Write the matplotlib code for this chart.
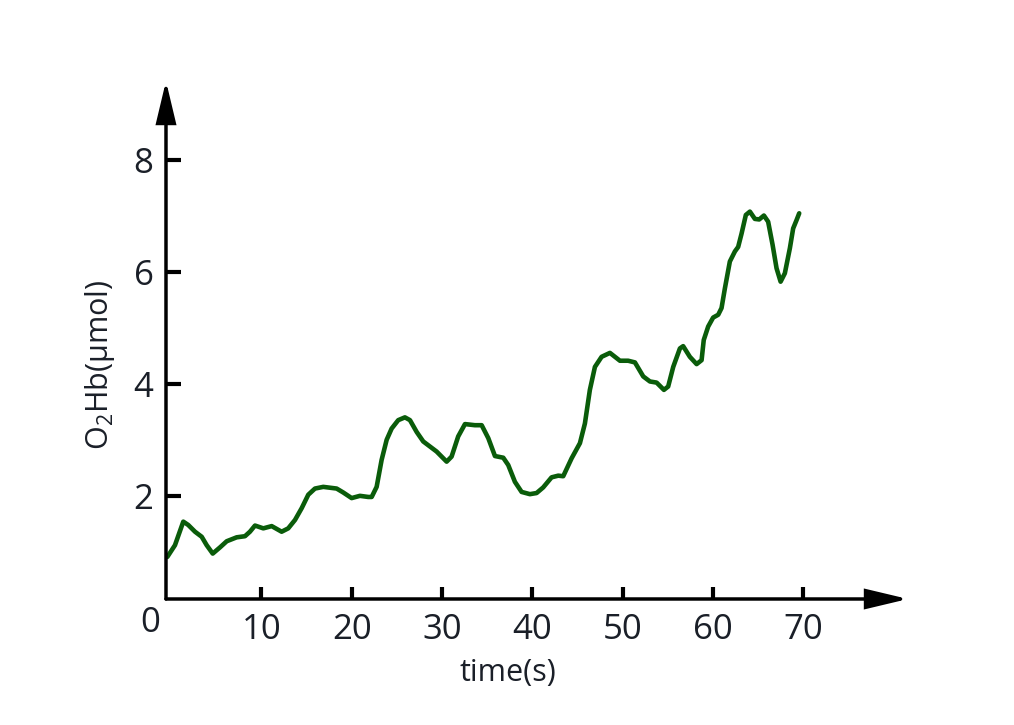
import matplotlib
matplotlib.use("Agg")
import matplotlib.pyplot as plt

plt.rcParams['font.family'] = ['Open Sans', 'DejaVu Sans']
plt.rcParams['mathtext.fontset'] = 'custom'
plt.rcParams['mathtext.rm'] = 'Open Sans'

# data
time_s = [-0.42, 0.43, 1.35, 1.90, 2.65, 3.39, 3.94, 4.61, 5.41, 6.16, 7.26, 8.18,
          8.73, 9.29, 10.21, 11.14, 12.24, 12.97, 13.72, 14.46, 15.19, 15.93, 16.85,
          18.33, 19.06, 19.99, 20.91, 21.83, 22.21, 22.76, 23.31, 23.87, 24.42, 25.15,
          25.89, 26.45, 27.19, 27.92, 28.66, 29.40, 30.51, 31.06, 31.79, 32.54, 33.64,
          34.39, 35.12, 35.86, 36.78, 37.33, 38.07, 38.81, 39.73, 40.47, 41.20, 42.13,
          42.87, 43.42, 44.35, 45.27, 45.82, 46.37, 46.93, 47.67, 48.59, 49.70, 50.61,
          51.36, 52.28, 53.02, 53.76, 54.57, 55.04, 55.60, 56.34, 56.70, 57.44, 58.19,
          58.74, 58.98, 59.47, 60.02, 60.58, 60.95, 61.32, 61.87, 62.43, 62.79, 63.17,
          63.64, 64.09, 64.64, 65.12, 65.64, 66.11, 66.60, 67.04, 67.49, 67.96, 68.52,
          68.88, 69.26, 69.55]
o2hb = [0.92, 1.13, 1.55, 1.49, 1.37, 1.28, 1.13, 0.98, 1.09, 1.20, 1.27, 1.29,
        1.37, 1.48, 1.43, 1.47, 1.37, 1.43, 1.58, 1.79, 2.03, 2.14, 2.17,
        2.14, 2.07, 1.97, 2.01, 1.99, 1.99, 2.17, 2.65, 3.01, 3.21, 3.36,
        3.41, 3.36, 3.15, 2.98, 2.89, 2.80, 2.62, 2.71, 3.07, 3.29, 3.27,
        3.27, 3.04, 2.72, 2.69, 2.56, 2.26, 2.08, 2.04, 2.06, 2.16, 2.34,
        2.37, 2.36, 2.68, 2.95, 3.30, 3.90, 4.31, 4.49, 4.56, 4.42, 4.42,
        4.39, 4.14, 4.05, 4.03, 3.90, 3.96, 4.31, 4.64, 4.68, 4.49, 4.36,
        4.43, 4.79, 5.03, 5.19, 5.24, 5.36, 5.71, 6.19, 6.37, 6.45, 6.69,
        7.02, 7.08, 6.95, 6.94, 7.01, 6.90, 6.49, 6.07, 5.83, 5.98, 6.43,
        6.78, 6.93, 7.05]
x_ticks = [10, 20, 30, 40, 50, 60, 70]
y_ticks = [2, 4, 6, 8]

text_color = '#1a1f28'

fig = plt.figure(figsize=(10.14, 7.25), dpi=100)
ax = fig.add_axes([0.1637, 0.1738, 0.7318, 0.7145])
ax.plot(time_s, o2hb, color='#0a5c0a', lw=3.3, solid_joinstyle='round',
        solid_capstyle='round')

ax.set_xlim(-0.565, 81.6)
ax.set_ylim(0.17, 9.41)
ax.set_xticks(x_ticks)
ax.set_yticks(y_ticks)
for s in ax.spines.values():
    s.set_visible(False)

ax.tick_params(axis='both', direction='in', length=11, width=3, color='black',
               labelsize=25, labelcolor=text_color)
ax.tick_params(axis='x', pad=10, length=9)
ax.tick_params(axis='y', pad=9)

arrow = dict(arrowstyle='-|>,head_length=0.42,head_width=0.1', mutation_scale=60,
             lw=2.5, color='black', shrinkA=0, shrinkB=0, joinstyle='miter')
ax.annotate('', xy=(1, 0), xytext=(0, 0), xycoords='axes fraction',
            textcoords='axes fraction', arrowprops=arrow, annotation_clip=False)
ax.annotate('', xy=(0, 1), xytext=(0, 0), xycoords='axes fraction',
            textcoords='axes fraction', arrowprops=arrow, annotation_clip=False)

ax.text(-0.0216, -0.0458, '0', transform=ax.transAxes, ha='center', va='center',
        fontsize=25, color=text_color)

ax.set_xlabel('time(s)', fontsize=22, color=text_color)
ax.xaxis.set_label_coords(0.461, -0.143)
ax.xaxis.label.set_va('center')
ax.set_ylabel(r'O$_\mathregular{2}$Hb(μmol)', fontsize=22, color=text_color)
ax.yaxis.set_label_coords(-0.089, 0.452)
ax.yaxis.label.set_va('center')

fig.savefig('out.png', dpi=100)
